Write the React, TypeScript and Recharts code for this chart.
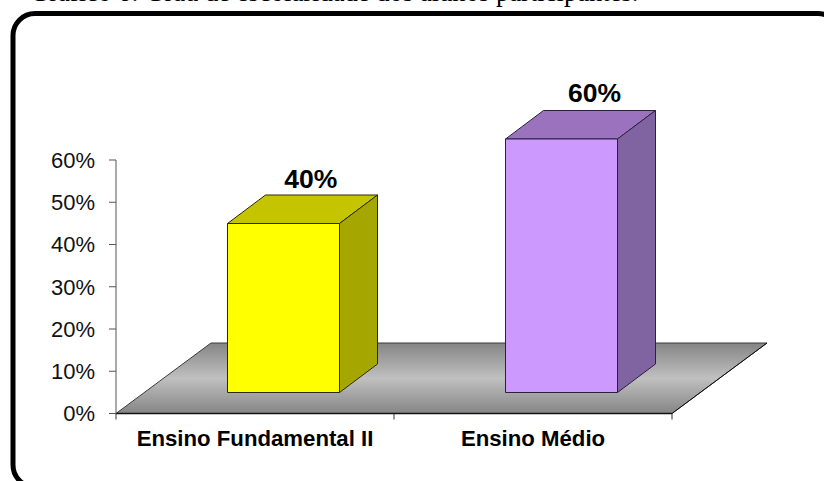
import React from "react";
import { BarChart, Bar, XAxis, YAxis, LabelList, usePlotArea } from "recharts";

const categories = ["Ensino Fundamental II", "Ensino Médio"];
const shares = [40, 60];
const yTicks = [0, 10, 20, 30, 40, 50, 60];
const frontColors = ["#FFFF00", "#CC99FF"];
const topColors = ["#C4C400", "#9B72BD"];
const sideColors = ["#A6A600", "#8064A2"];
const caption = "Gráfico 6: Grau de escolaridade dos alunos participantes.";

const rows = categories.map((name, i) => ({ name, share: shares[i] }));

const SANS = "'Liberation Sans', Arial, sans-serif";
const FLOOR_DX = 95;
const FLOOR_DY = 70.5;
const FRONT_DX = 28.5;
const FRONT_DY = 21;
const DEPTH_DX = 38;
const DEPTH_DY = 28.5;
const LABEL_DX = [55.7, 61.5];
const LABEL_DY = [-56.5, -58];

// Grey floor of the 3D plot, with the category axis and its boundary ticks on top.
function Floor() {
  const plot = usePlotArea();
  if (!plot) return null;
  const left = plot.x;
  const right = plot.x + plot.width;
  const bottom = plot.y + plot.height;
  const floorPath = `M${left} ${bottom}L${right} ${bottom}L${right + FLOOR_DX} ${bottom - FLOOR_DY}L${left + FLOOR_DX} ${bottom - FLOOR_DY}Z`;
  const step = plot.width / categories.length;
  return (
    <g>
      <defs>
        <linearGradient id="floorFill" x1="0" y1="0" x2="0" y2="1">
          <stop offset="0" stopColor="#858585" />
          <stop offset="0.5" stopColor="#C0C0C0" />
          <stop offset="1" stopColor="#858585" />
        </linearGradient>
      </defs>
      <path d={floorPath} fill="url(#floorFill)" stroke="#3a3a3a" strokeWidth={1} />
      <line x1={left} y1={bottom} x2={right} y2={bottom} stroke="#111" strokeWidth={1.5} />
      <line x1={right} y1={bottom} x2={right + FLOOR_DX} y2={bottom - FLOOR_DY} stroke="#111" strokeWidth={1} />
      {[0, 1, 2].map((i) => (
        <line key={i} x1={left + i * step} y1={bottom} x2={left + i * step} y2={bottom + 6} stroke="#333" strokeWidth={1} />
      ))}
    </g>
  );
}

// One extruded column: front face, top face and right side, standing on the floor.
function Column(props: any) {
  const { x, y, width, height, index } = props;
  const fx = x + FRONT_DX;
  const fy = y - FRONT_DY;
  const fb = y + height - FRONT_DY;
  const fr = fx + width;
  const edge = index === 0 ? "#2a2a00" : "#2c2040";
  return (
    <g stroke={edge} strokeWidth={1} strokeLinejoin="round">
      <path
        d={`M${fx} ${fy}L${fx + DEPTH_DX} ${fy - DEPTH_DY}L${fr + DEPTH_DX} ${fy - DEPTH_DY}L${fr} ${fy}Z`}
        fill={topColors[index]}
      />
      <path
        d={`M${fr} ${fy}L${fr + DEPTH_DX} ${fy - DEPTH_DY}L${fr + DEPTH_DX} ${fb - DEPTH_DY}L${fr} ${fb}Z`}
        fill={sideColors[index]}
      />
      <rect x={fx} y={fy} width={width} height={height} fill={frontColors[index]} />
    </g>
  );
}

// Percentage written above the top face of a column.
function ValueLabel(props: any) {
  const { x, y, width, value, index } = props;
  return (
    <text
      x={x + width / 2 + LABEL_DX[index]}
      y={y + LABEL_DY[index]}
      textAnchor="middle"
      fontFamily={SANS}
      fontWeight="bold"
      fontSize={26.5}
      fill="#000"
    >
      {value}%
    </text>
  );
}

export default function App() {
  return (
    <div style={{ position: "absolute", left: 0, top: 0, width: 824, height: 481, background: "#fff", overflow: "hidden" }}>
      <svg width={824} height={481} style={{ position: "absolute", left: 0, top: 0 }}>
        <text x={30} y={1} fontFamily="'Liberation Serif', serif" fontSize={26.6} fill="#000">
          {caption}
        </text>
        <rect x={13} y={13.5} width={827} height={473.5} rx={22} ry={22} fill="#fff" stroke="#000" strokeWidth={5} />
      </svg>
      <div style={{ position: "absolute", left: 0, top: 0 }}>
        <BarChart
          width={824}
          height={481}
          data={rows}
          barSize={112}
          margin={{ top: 160, left: 46, right: 152, bottom: 27.5 }}
        >
          <Floor />
          <XAxis
            dataKey="name"
            height={40}
            axisLine={false}
            tickLine={false}
            tickMargin={11}
            interval={0}
            tick={{ fontFamily: SANS, fontWeight: "bold", fontSize: 22.2, fill: "#000" }}
          />
          <YAxis
            width={70}
            domain={[0, 60]}
            ticks={yTicks}
            tickFormatter={(v: number) => `${v}%`}
            axisLine={{ stroke: "#555", strokeWidth: 1 }}
            tickLine={{ stroke: "#555", strokeWidth: 1 }}
            tickSize={7}
            tickMargin={14}
            tick={{ fontFamily: SANS, fontSize: 22, fill: "#111" }}
          />
          <Bar dataKey="share" isAnimationActive={false} shape={Column}>
            <LabelList dataKey="share" content={ValueLabel} />
          </Bar>
        </BarChart>
      </div>
    </div>
  );
}
